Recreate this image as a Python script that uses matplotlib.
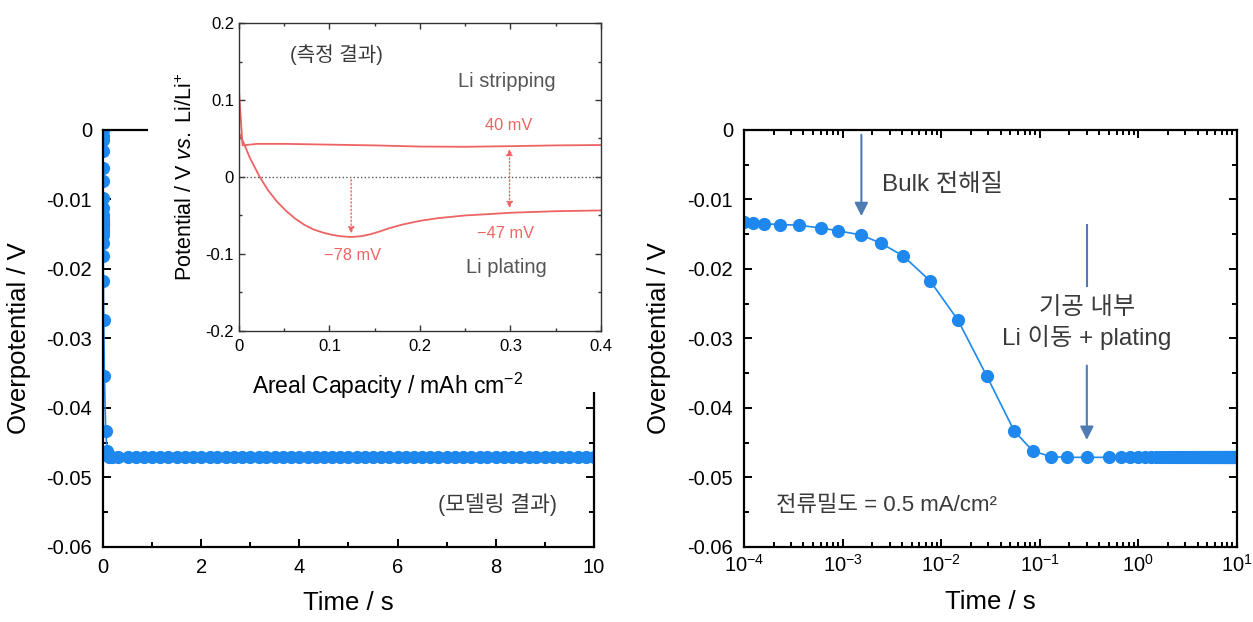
import numpy as np
import matplotlib.pyplot as plt
from matplotlib.patches import Rectangle
from matplotlib.ticker import MultipleLocator, LogLocator, NullFormatter

plt.rcParams['font.family'] = ['Liberation Sans', 'Noto Sans CJK KR']
plt.rcParams['mathtext.fontset'] = 'custom'
plt.rcParams['mathtext.rm'] = 'Liberation Sans'
plt.rcParams['mathtext.it'] = 'Liberation Sans:italic'
plt.rcParams['axes.unicode_minus'] = False

# modelled overpotential vs time (s, V)
time_model = [0, 1e-6, 2e-6, 4e-6, 7e-6, 1e-5, 1.5e-5, 2e-5, 3e-5, 4.5e-5, 6.5e-5,
              1.0e-4, 1.23e-4, 1.6e-4, 2.3e-4, 3.6e-4, 6.0e-4, 9.0e-4, 1.54e-3, 2.45e-3,
              4.1e-3, 7.7e-3, 0.0147, 0.029, 0.055, 0.085, 0.13, 0.19, 0.30,
              0.5, 0.67, 0.83,
              1.0, 1.17, 1.33, 1.5, 1.67, 1.83,
              2.0, 2.17, 2.33, 2.5, 2.67, 2.83,
              3.0, 3.17, 3.33, 3.5, 3.67, 3.83,
              4.0, 4.17, 4.33, 4.5, 4.67, 4.83,
              5.0, 5.17, 5.33, 5.5, 5.67, 5.83,
              6.0, 6.17, 6.33, 6.5, 6.67, 6.83,
              7.0, 7.17, 7.33, 7.5, 7.67, 7.83,
              8.0, 8.17, 8.33, 8.5, 8.67, 8.83,
              9.0, 9.17, 9.33, 9.5, 9.67, 9.83,
              10.0]
over_model = [0, -0.0008, -0.0015, -0.003, -0.0055, -0.0074, -0.0098, -0.0112, -0.0122, -0.0128, -0.0131,
              -0.0132, -0.0134, -0.0135, -0.0136, -0.0137, -0.0141, -0.0145, -0.0151, -0.0163,
              -0.0181, -0.0217, -0.0273, -0.0354, -0.0433, -0.0462, -0.0470, -0.0471, -0.0471,
              -0.0471, -0.0471, -0.0471,
              -0.0471, -0.0471, -0.0471, -0.0471, -0.0471, -0.0471,
              -0.0471, -0.0471, -0.0471, -0.0471, -0.0471, -0.0471,
              -0.0471, -0.0471, -0.0471, -0.0471, -0.0471, -0.0471,
              -0.0471, -0.0471, -0.0471, -0.0471, -0.0471, -0.0471,
              -0.0471, -0.0471, -0.0471, -0.0471, -0.0471, -0.0471,
              -0.0471, -0.0471, -0.0471, -0.0471, -0.0471, -0.0471,
              -0.0471, -0.0471, -0.0471, -0.0471, -0.0471, -0.0471,
              -0.0471, -0.0471, -0.0471, -0.0471, -0.0471, -0.0471,
              -0.0471, -0.0471, -0.0471, -0.0471, -0.0471, -0.0471,
              -0.0471]

# measured potential (inset), mAh/cm2 vs V
cap_strip = [0, 0, 0.004, 0.02, 0.05, 0.1, 0.15, 0.2, 0.25, 0.3, 0.35, 0.4]
pot_strip = [0.0, 0.113, 0.041, 0.043, 0.043, 0.042, 0.041, 0.0395, 0.0392, 0.040, 0.041, 0.0415]
cap_plate = [0, 0.005, 0.012, 0.023, 0.032, 0.042, 0.052, 0.062, 0.072, 0.082, 0.092, 0.102,
             0.112, 0.124, 0.135, 0.145, 0.155, 0.165, 0.18, 0.2, 0.22, 0.25, 0.28, 0.3, 0.35, 0.4]
pot_plate = [0.057, 0.045, 0.025, 0.0, -0.017, -0.032, -0.044, -0.054, -0.062, -0.068, -0.072, -0.075,
             -0.077, -0.078, -0.077, -0.0745, -0.071, -0.067, -0.062, -0.057, -0.0535, -0.050, -0.048,
             -0.0465, -0.0445, -0.0435]

y_ticks = [0, -0.01, -0.02, -0.03, -0.04, -0.05, -0.06]
y_labels = ['0', '-0.01', '-0.02', '-0.03', '-0.04', '-0.05', '-0.06']

blue = '#1E88EE'
red = '#EE6464'
arrow_c = '#4F7BB5'
txt_c = '#3A3A3A'

fig = plt.figure(figsize=(12.53, 6.22), dpi=100)


def style_axes(ax):
    for s in ax.spines.values():
        s.set_linewidth(1.6)
    ax.tick_params(which='both', direction='in', top=True, right=True, labelsize=14.5, width=1.4)
    ax.tick_params(which='major', length=6)
    ax.tick_params(which='minor', length=3.5)
    ax.tick_params(axis='x', pad=8)
    ax.tick_params(axis='y', pad=8)


# left: linear time
ax1 = fig.add_axes([0.0822, 0.1206, 0.3918, 0.6704])
ax1.plot(time_model, over_model, '-o', color=blue, ms=9.5, lw=1.2, mew=0)
ax1.set_xlim(0, 10)
ax1.set_ylim(-0.06, 0)
ax1.set_yticks(y_ticks)
ax1.set_yticklabels(y_labels)
ax1.set_xticks([0, 2, 4, 6, 8, 10])
ax1.xaxis.set_minor_locator(MultipleLocator(1))
ax1.yaxis.set_minor_locator(MultipleLocator(0.005))
style_axes(ax1)
ax1.set_xlabel('Time / s', fontsize=18.5, labelpad=10)
ax1.set_ylabel('Overpotential / V', fontsize=18.5, labelpad=11)
ax1.text(9.25, -0.0539, '(모델링 결과)', fontsize=15.5, color=txt_c, ha='right', va='center')

# white block behind the inset
fig.add_artist(Rectangle((0.118, 0.37), 0.38, 0.63, transform=fig.transFigure,
                         facecolor='white', edgecolor='none', zorder=1))

# inset: measured data
ax_in = fig.add_axes([0.1907, 0.468, 0.2889, 0.495])
ax_in.set_zorder(2)
ax_in.plot(cap_strip, pot_strip, color=red, lw=1.3)
ax_in.plot(cap_plate, pot_plate, color=red, lw=1.3)
ax_in.axhline(0, color='#555555', lw=1.0, ls=':')
ax_in.set_xlim(0, 0.4)
ax_in.set_ylim(-0.2, 0.2)
ax_in.set_xticks([0, 0.1, 0.2, 0.3, 0.4])
ax_in.set_xticklabels(['0', '0.1', '0.2', '0.3', '0.4'])
ax_in.set_yticks([-0.2, -0.1, 0, 0.1, 0.2])
ax_in.set_yticklabels(['-0.2', '-0.1', '0', '0.1', '0.2'])
ax_in.xaxis.set_minor_locator(MultipleLocator(0.05))
ax_in.yaxis.set_minor_locator(MultipleLocator(0.05))
for s in ax_in.spines.values():
    s.set_linewidth(1.0)
    s.set_color('#333333')
ax_in.tick_params(which='both', direction='in', top=True, right=True, labelsize=12, width=1.0, color='#333333')
ax_in.tick_params(which='major', length=4)
ax_in.tick_params(which='minor', length=2.5)
ax_in.tick_params(axis='x', pad=6)
ax_in.set_xlabel('Areal Capacity / mAh cm$^{-2}$', fontsize=16.5, labelpad=8)
ax_in.xaxis.set_label_coords(0.41, -0.13)
ax_in.set_ylabel('Potential / V $\\mathit{vs.}$ Li/Li$^{+}$', fontsize=15.5, labelpad=6)
ax_in.text(0.056, 0.159, '(측정 결과)', fontsize=14.5, color=txt_c, va='center')
ax_in.text(0.296, 0.124, 'Li stripping', fontsize=14.5, color='#555555', ha='center', va='center')
ax_in.text(0.296, -0.117, 'Li plating', fontsize=14.5, color='#555555', ha='center', va='center')
ax_in.text(0.298, 0.067, '40 mV', fontsize=11.8, color=red, ha='center', va='center')
ax_in.text(0.295, -0.074, '\u221247 mV', fontsize=11.8, color=red, ha='center', va='center')
ax_in.text(0.126, -0.102, '\u221278 mV', fontsize=11.8, color=red, ha='center', va='center')
ax_in.annotate('', xy=(0.124, -0.077), xytext=(0.124, 0.0),
               arrowprops=dict(arrowstyle='-|>', color=red, lw=1.0, ls=':', mutation_scale=9))
ax_in.annotate('', xy=(0.299, -0.044), xytext=(0.299, 0.040),
               arrowprops=dict(arrowstyle='<|-|>', color=red, lw=1.0, ls=':', mutation_scale=9))

# right: log time
ax2 = fig.add_axes([0.5938, 0.1206, 0.3934, 0.6704])
ax2.plot(time_model, over_model, '-o', color=blue, ms=9.5, lw=1.2, mew=0)
ax2.set_xscale('log')
ax2.set_xlim(1e-4, 10)
ax2.set_ylim(-0.06, 0)
ax2.set_yticks(y_ticks)
ax2.set_yticklabels(y_labels)
ax2.xaxis.set_major_locator(LogLocator(base=10, numticks=10))
ax2.xaxis.set_minor_locator(LogLocator(base=10, subs=np.arange(2, 10) * 1.0, numticks=20))
ax2.xaxis.set_minor_formatter(NullFormatter())
ax2.yaxis.set_minor_locator(MultipleLocator(0.005))
style_axes(ax2)
ax2.tick_params(axis='x', pad=5)
ax2.set_xlabel('Time / s', fontsize=18.5, labelpad=10)
ax2.set_ylabel('Overpotential / V', fontsize=18.5, labelpad=12)

ax2.annotate('', xy=(1.55e-3, -0.0128), xytext=(1.55e-3, -0.0003),
             arrowprops=dict(arrowstyle='-|>', color=arrow_c, lw=1.5, mutation_scale=20))
ax2.text(2.5e-3, -0.0079, 'Bulk 전해질', fontsize=17.5, color=txt_c, va='center')
ax2.plot([0.30, 0.30], [-0.0137, -0.0224], color=arrow_c, lw=1.5)
ax2.annotate('', xy=(0.30, -0.0450), xytext=(0.30, -0.0335),
             arrowprops=dict(arrowstyle='-|>', color=arrow_c, lw=1.5, mutation_scale=20))
ax2.text(0.30, -0.0256, '기공 내부', fontsize=17.5, color=txt_c, ha='center', va='center')
ax2.text(0.30, -0.0299, 'Li 이동 + plating', fontsize=17.5, color=txt_c, ha='center', va='center')
ax2.text(2.1e-4, -0.054, '전류밀도 = 0.5 mA/cm²', fontsize=16, color=txt_c, va='center')

plt.savefig('out.png', dpi=100)
